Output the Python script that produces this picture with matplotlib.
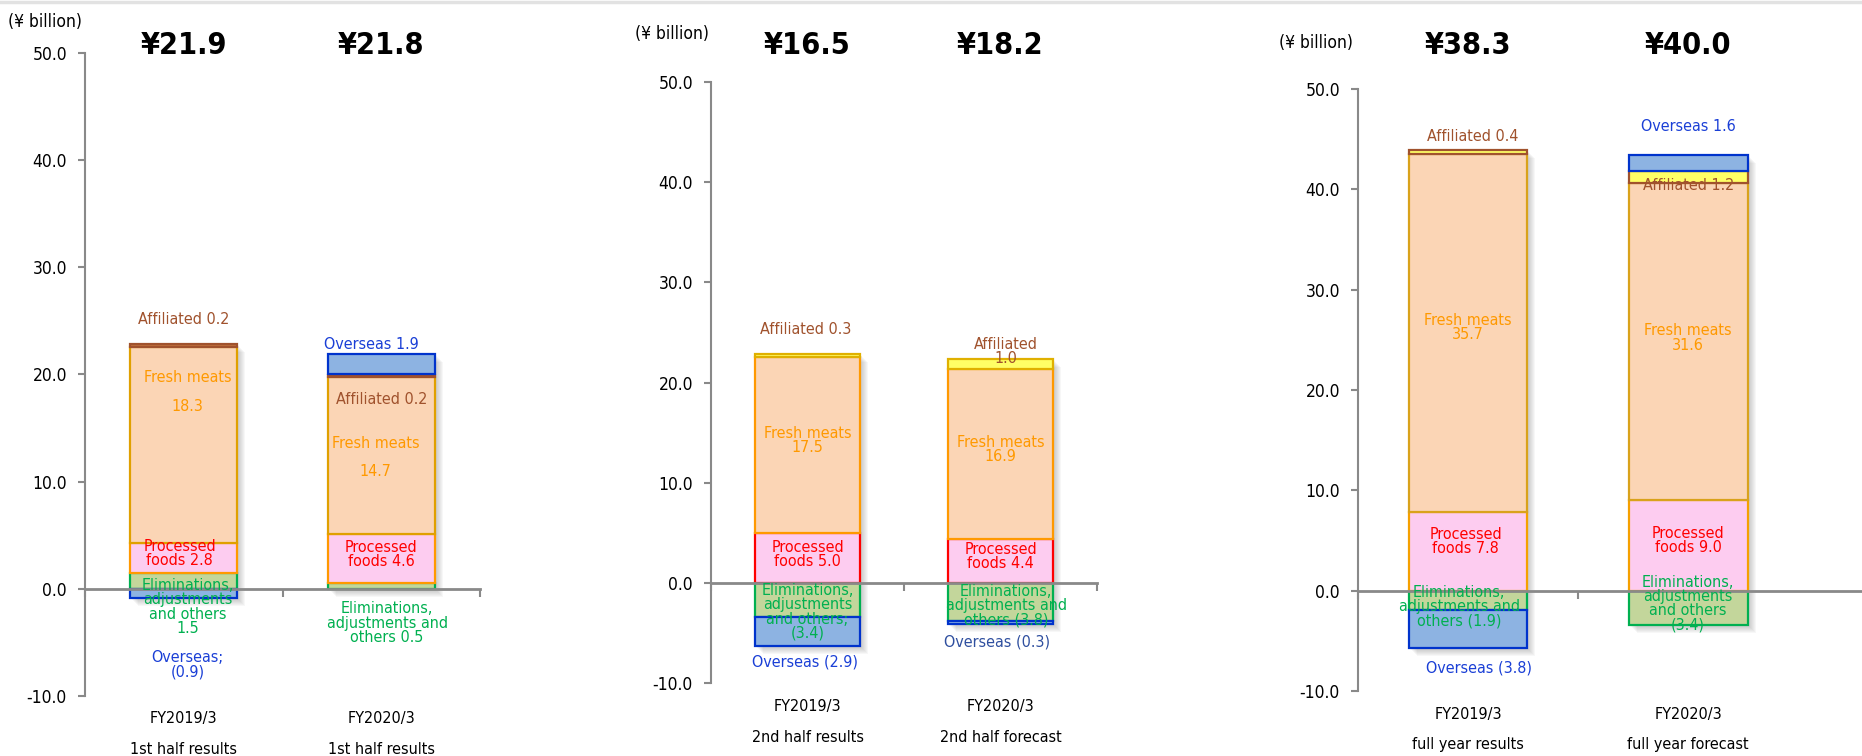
import matplotlib
matplotlib.use("Agg")
import matplotlib.pyplot as plt
from matplotlib import transforms
from matplotlib.lines import Line2D
from matplotlib.patches import Rectangle

plt.rcParams["font.family"] = ["DejaVu Sans"]
plt.rcParams["font.stretch"] = "condensed"

W, H = 1862, 756

# segment order, bottom of the stack first
SEGMENTS = ["elim", "processed", "fresh", "affiliated", "overseas"]

# 1st half
H1_CATS = ["FY2019/3", "FY2020/3"]
H1_SUB = ["1st half results", "1st half results"]
H1_TOTAL = [21.9, 21.8]
H1_ELIM = [1.5, 0.5]
H1_PROC = [2.8, 4.6]
H1_FRESH = [18.3, 14.7]
H1_AFF = [0.2, 0.2]
H1_OVS = [-0.9, 1.9]

# 2nd half
H2_CATS = ["FY2019/3", "FY2020/3"]
H2_SUB = ["2nd half results", "2nd half forecast"]
H2_TOTAL = [16.5, 18.2]
H2_ELIM = [-3.4, -3.8]
H2_PROC = [5.0, 4.4]
H2_FRESH = [17.5, 16.9]
H2_AFF = [0.3, 1.0]
H2_OVS = [-2.9, -0.3]

# full year
FY_CATS = ["FY2019/3", "FY2020/3"]
FY_SUB = ["full year results", "full year forecast"]
FY_TOTAL = [38.3, 40.0]
FY_ELIM = [-1.9, -3.4]
FY_PROC = [7.8, 9.0]
FY_FRESH = [35.7, 31.6]
FY_AFF = [0.4, 1.2]
FY_OVS = [-3.8, 1.6]

FACE = {"elim": "#c3d69b", "processed": "#fdccf0", "fresh": "#fbd5b5",
        "affiliated": "#ffff66", "overseas": "#8db3e2"}
TEXT = {"elim": "#00b050", "processed": "#ff0000", "fresh": "#ff9900",
        "affiliated": "#a0522d", "overseas": "#1a3fd6"}
GRAY = "#898989"


def fmt(v):
    return f"({abs(v):.1f})" if v < 0 else f"{v:.1f}"


def px_x(x):
    return x / W


def px_y(y):
    return 1 - y / H


# per-panel layout: axes box in pixels, edge colours, label placement
PANELS = [
    dict(cats=H1_CATS, sub=H1_SUB, total=H1_TOTAL,
         vals=[H1_ELIM, H1_PROC, H1_FRESH, H1_AFF, H1_OVS],
         box=(85, 480, 53, 696), xmax=1.5, xticks=[-0.5, 0.5, 1.5],
         unit=(8, 22), head_y=46, cat_y=(718, 749),
         edge={"elim": "#00b050", "processed": "#ff9900", "fresh": "#e0a000",
               "affiliated": "#a0522d", "overseas": "#0033cc"},
         aff_face="#c0703a",
         labels=[
             [("affiliated", "Affiliated {}", 0.0, 25.1),
              ("fresh", "Fresh meats\n\n{}", 0.02, 18.4),
              ("processed", "Processed\nfoods {}", -0.02, 3.3),
              ("elim", "Eliminations,\nadjustments\nand others\n{}", 0.02, -1.7),
              ("overseas", "Overseas;\n{}", 0.02, -7.1)],
             [("overseas", "Overseas {}", -0.05, 22.8),
              ("affiliated", "Affiliated {}", 0.0, 17.7),
              ("fresh", "Fresh meats\n\n{}", -0.03, 12.25),
              ("processed", "Processed\nfoods {}", 0.0, 3.2),
              ("elim", "Eliminations,\nadjustments and\nothers {}", 0.03, -3.2)],
         ]),
    dict(cats=H2_CATS, sub=H2_SUB, total=H2_TOTAL,
         vals=[H2_ELIM, H2_PROC, H2_FRESH, H2_AFF, H2_OVS],
         box=(711, 1097, 82, 683), xmax=1.5, xticks=[-0.5, 0.5, 1.5],
         unit=(635, 34), head_y=46, cat_y=(707, 737),
         edge={"elim": "#00b050", "processed": "#ff0000", "fresh": "#ff9900",
               "affiliated": "#e0b000", "overseas": "#0033cc"},
         aff_face="#ffff66",
         labels=[
             [("affiliated", "Affiliated {}", -0.01, 25.3),
              ("fresh", "Fresh meats\n{}", 0.0, 14.2),
              ("processed", "Processed\nfoods {}", 0.0, 2.85),
              ("elim", "Eliminations,\nadjustments\nand others;\n{}", 0.0, -2.9),
              ("overseas", "Overseas {}", -0.015, -7.9)],
             [("affiliated", "Affiliated\n{}", 0.03, 23.1),
              ("fresh", "Fresh meats\n{}", 0.0, 13.3),
              ("processed", "Processed\nfoods {}", 0.0, 2.6),
              ("elim", "Eliminations,\nadjustments and\nothers {}", 0.03, -2.3),
              ("overseas", "Overseas {}", -0.02, -5.9)],
         ]),
    dict(cats=FY_CATS, sub=FY_SUB, total=FY_TOTAL,
         vals=[FY_ELIM, FY_PROC, FY_FRESH, FY_AFF, FY_OVS],
         box=(1358, 1862, 89, 691), xmax=1.79, xticks=[-0.5, 0.5],
         unit=(1279, 43), head_y=45, cat_y=(715, 745),
         edge={"elim": "#00b050", "processed": "#f5a000", "fresh": "#d9a21b",
               "affiliated": "#a0522d", "overseas": "#0033cc"},
         aff_face="#ffff66",
         labels=[
             [("affiliated", "Affiliated {}", 0.02, 45.3),
              ("fresh", "Fresh meats\n{}", 0.0, 26.2),
              ("processed", "Processed\nfoods {}", -0.01, 4.9),
              ("elim", "Eliminations,\nadjustments and\nothers {}", -0.04, -1.6),
              ("overseas", "Overseas {}", 0.05, -7.7)],
             [("overseas", "Overseas {}", 0.0, 46.3),
              ("affiliated", "Affiliated {}", 0.0, 40.4),
              ("fresh", "Fresh meats\n{}", 0.0, 25.2),
              ("processed", "Processed\nfoods {}", 0.0, 5.0),
              ("elim", "Eliminations,\nadjustments\nand others\n{}", 0.0, -1.3)],
         ]),
]

BAR_W = 0.54
LABEL_FS = 11.5

fig = plt.figure(figsize=(W / 100, H / 100), dpi=100)
fig.add_artist(Line2D([0, 1], [0.998, 0.998], color="#e2e2e2", lw=2.5))

for n, p in enumerate(PANELS):
    x0, x1, y_top, y_bot = p["box"]
    ax = fig.add_axes([px_x(x0), px_y(y_bot), px_x(x1 - x0), (y_bot - y_top) / H])
    ax.set_xlim(-0.5, p["xmax"])
    ax.set_ylim(-10, 50)
    ax.patch.set_alpha(0)
    hx = transforms.blended_transform_factory(ax.transData, fig.transFigure)

    for i in range(len(p["cats"])):
        col = [v[i] for v in p["vals"]]
        pos, neg = 0.0, 0.0
        for seg, v in zip(SEGMENTS, col):
            if v >= 0:
                bottom = pos
                pos += v
            else:
                bottom = neg
                neg += v
            face = p["aff_face"] if seg == "affiliated" else FACE[seg]
            ax.bar(i, v, BAR_W, bottom=bottom, color=face,
                   edgecolor=p["edge"][seg], linewidth=1.6, zorder=3)
        # soft drop shadow behind the whole stack
        for k in range(7):
            off = transforms.offset_copy(ax.transData, fig=fig,
                                         x=2 + k, y=-(2 + k), units="dots")
            ax.add_patch(Rectangle((i - BAR_W / 2, neg), BAR_W, pos - neg,
                                   transform=off, facecolor="#7a7a7a",
                                   edgecolor="none", alpha=0.06, zorder=2))

        for seg, tmpl, dx, y in p["labels"][i]:
            v = col[SEGMENTS.index(seg)]
            color = TEXT[seg]
            if seg == "overseas" and n == 1 and i == 1:
                color = "#2f4f9f"
            ax.text(i + dx, y, tmpl.format(fmt(v)), ha="center", va="center",
                    color=color, fontsize=LABEL_FS, linespacing=0.95, zorder=5)

        ax.text(i, px_y(p["head_y"]), f"¥{p['total'][i]:.1f}", transform=hx,
                ha="center", va="center", fontsize=22, fontweight="bold")
        ax.text(i, px_y(p["cat_y"][0]), p["cats"][i], transform=hx,
                ha="center", va="center", fontsize=11.5)
        ax.text(i, px_y(p["cat_y"][1]), p["sub"][i], transform=hx,
                ha="center", va="center", fontsize=11.5)

    fig.text(px_x(p["unit"][0]), px_y(p["unit"][1]), "(¥ billion)",
             ha="left", va="center", fontsize=12.5)

    for s in ("top", "right"):
        ax.spines[s].set_visible(False)
    ax.spines["left"].set_color(GRAY)
    ax.spines["left"].set_linewidth(1.5)
    ax.spines["bottom"].set_position(("data", 0))
    ax.spines["bottom"].set_color(GRAY)
    ax.spines["bottom"].set_linewidth(2)
    ax.spines["bottom"].set_zorder(4)

    ax.set_yticks(range(-10, 51, 10))
    ax.set_yticklabels([f"{t:.1f}" for t in range(-10, 51, 10)])
    ax.tick_params(axis="y", direction="out", length=5, width=1.5,
                   color=GRAY, labelsize=12.5, pad=8)
    ax.set_xticks(p["xticks"])
    ax.set_xticklabels([])
    ax.tick_params(axis="x", direction="out", length=6, width=1.5, color=GRAY)

fig.savefig("out.png", dpi=100)
